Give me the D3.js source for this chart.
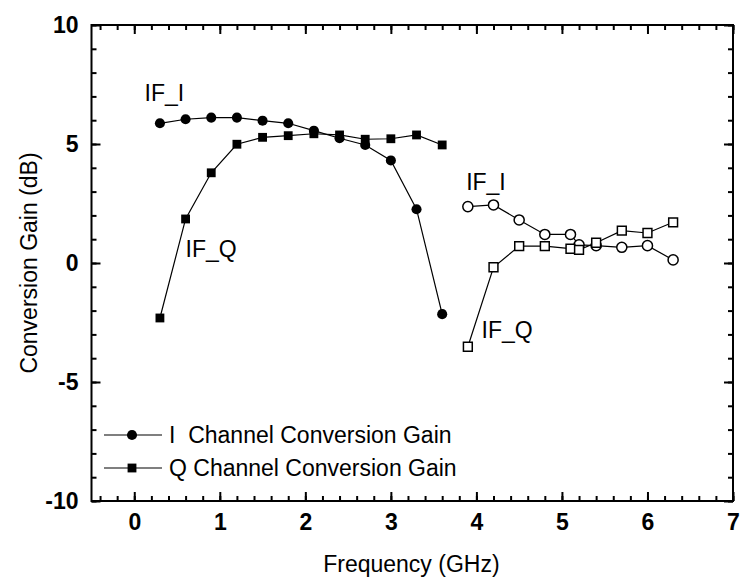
<!DOCTYPE html>
<meta charset="utf-8">
<style>
body { margin: 0; background: #fff; }
text { font-family: "Liberation Sans", Arial, sans-serif; fill: #000; }
.tick-label { font-size: 23px; font-weight: bold; }
.title { font-size: 23px; }
.note { font-size: 23px; }
.line { fill: none; stroke: #000; stroke-width: 1.2; }
</style>
<body>
<script src="https://d3js.org/d3.v7.min.js"></script>
<script>

// I and Q channel gain, low band (filled) and high band (open)
var freqLow  = [0.3, 0.6, 0.9, 1.2, 1.5, 1.8, 2.1, 2.4, 2.7, 3.0, 3.3, 3.6];
var iLow     = [5.87, 6.04, 6.11, 6.11, 5.98, 5.87, 5.56, 5.24, 4.96, 4.31, 2.26, -2.15];
var qLow     = [-2.31, 1.85, 3.79, 4.99, 5.28, 5.35, 5.43, 5.38, 5.2, 5.22, 5.38, 4.96];

var freqHigh = [3.9, 4.2, 4.5, 4.8, 5.1, 5.2, 5.4, 5.7, 6.0, 6.3];
var iHigh    = [2.37, 2.44, 1.81, 1.2, 1.2, 0.76, 0.73, 0.66, 0.73, 0.13];
var qHigh    = [-3.52, -0.18, 0.71, 0.71, 0.6, 0.55, 0.85, 1.36, 1.26, 1.71];

var xTicks = [0, 1, 2, 3, 4, 5, 6, 7];
var yTicks = [-10, -5, 0, 5, 10];

var legendNames = ["I  Channel Conversion Gain", "Q Channel Conversion Gain"];

var margin = {top: 25, right: 7, bottom: 77, left: 91.5},
    width = 740 - margin.left - margin.right,
    height = 578 - margin.top - margin.bottom;

var x = d3.scaleLinear().domain([-0.5, 7]).range([0, width]);
var y = d3.scaleLinear().domain([-10, 10]).range([height, 0]);

var svg = d3.select("body").append("svg")
    .attr("width", 740)
    .attr("height", 578)
  .append("g")
    .attr("transform", "translate(" + margin.left + "," + margin.top + ")");

var xMinor = d3.range(-0.4, 7.001, 0.2).map(function(d) { return +d.toFixed(1); });
var yMinor = d3.range(-10, 10.001, 1);

// plain hyphen for negatives, like the original
var fmt = function(d) { return String(d); };

// inward ticks on all four sides
function ticks(axisFn, scale, major, minor, transform, labels) {
  var g = svg.append("g").attr("transform", transform);
  g.call(axisFn(scale).tickValues(minor).tickSize(-5).tickFormat(""));
  var m = svg.append("g").attr("transform", transform)
    .call(axisFn(scale).tickValues(major).tickSize(-9).tickPadding(labels ? 13 : 0)
      .tickFormat(labels ? fmt : ""));
  [g, m].forEach(function(s) {
    s.select(".domain").remove();
    s.selectAll(".tick line").attr("stroke", "#000").attr("stroke-width", 2);
  });
  m.selectAll(".tick text").attr("class", "tick-label").attr("font-size", null).attr("font-family", null);
  return m;
}

ticks(d3.axisBottom, x, xTicks, xMinor, "translate(0," + height + ")", true);
ticks(d3.axisTop, x, xTicks, xMinor, "translate(0,0)", false);
ticks(d3.axisLeft, y, yTicks, yMinor, "translate(0,0)", true);
ticks(d3.axisRight, y, yTicks, yMinor, "translate(" + width + ",0)", false);

svg.append("rect")
    .attr("width", width).attr("height", height)
    .attr("fill", "none").attr("stroke", "#000").attr("stroke-width", 2);

// axis titles
svg.append("text").attr("class", "title")
    .attr("x", x(3.24)).attr("y", height + 71)
    .attr("text-anchor", "middle")
    .text("Frequency (GHz)");

svg.append("text").attr("class", "title")
    .attr("transform", "translate(" + (37 - margin.left) + "," + y(0) + ") rotate(-90)")
    .attr("text-anchor", "middle")
    .text("Conversion Gain (dB)");

var line = d3.line()
    .x(function(d) { return x(d[0]); })
    .y(function(d) { return y(d[1]); });

function series(xs, ys, shape, filled) {
  var pts = xs.map(function(f, i) { return [f, ys[i]]; });
  svg.append("path").datum(pts).attr("class", "line").attr("d", line);
  var sym = d3.symbol().type(shape).size(shape === d3.symbolCircle ? 80 : 78);
  svg.selectAll(null).data(pts).enter().append("path")
      .attr("transform", function(d) { return "translate(" + x(d[0]) + "," + y(d[1]) + ")"; })
      .attr("d", sym)
      .attr("fill", filled ? "#000" : "#fff")
      .attr("stroke", "#000")
      .attr("stroke-width", filled ? 0 : 1.5);
}

series(freqLow, iLow, d3.symbolCircle, true);
series(freqLow, qLow, d3.symbolSquare, true);
series(freqHigh, iHigh, d3.symbolCircle, false);
series(freqHigh, qHigh, d3.symbolSquare, false);

// in-plot labels
var notes = [
  {t: "IF_I", f: 0.12, v: 6.8},
  {t: "IF_Q", f: 0.6, v: 0.27},
  {t: "IF_I", f: 3.88, v: 3.07},
  {t: "IF_Q", f: 4.06, v: -3.15}
];
svg.selectAll(null).data(notes).enter().append("text")
    .attr("class", "note")
    .attr("x", function(d) { return x(d.f); })
    .attr("y", function(d) { return y(d.v); })
    .text(function(d) { return d.t; });

// legend
var legendY = [435 - margin.top, 468 - margin.top];
var lg = svg.selectAll(".legend").data(legendNames).enter().append("g")
    .attr("transform", function(d, i) { return "translate(0," + legendY[i] + ")"; });
lg.append("line")
    .attr("x1", 104 - margin.left).attr("x2", 162 - margin.left)
    .attr("stroke", "#000").attr("stroke-width", 1.2);
lg.append("path")
    .attr("transform", "translate(" + (132 - margin.left) + ",0)")
    .attr("d", function(d, i) { return d3.symbol().type(i ? d3.symbolSquare : d3.symbolCircle).size(i ? 78 : 80)(); })
    .attr("fill", "#000");
lg.append("text").attr("class", "note")
    .attr("x", 169 - margin.left).attr("y", 8)
    .attr("xml:space", "preserve")
    .style("white-space", "pre")
    .text(function(d) { return d; });

</script>
</body>
